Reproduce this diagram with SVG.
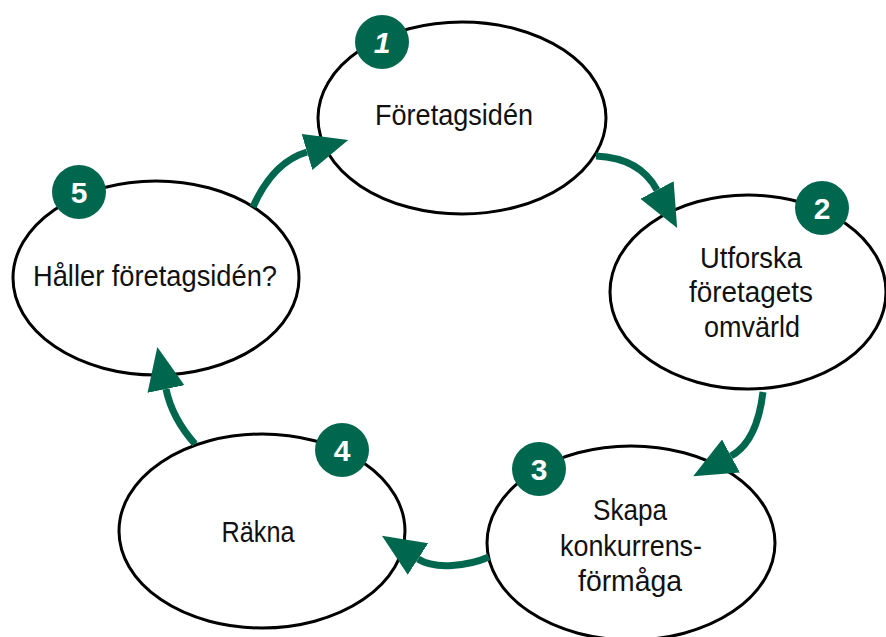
<svg xmlns="http://www.w3.org/2000/svg" width="886" height="637" viewBox="0 0 886 637">
<style>
.node ellipse{fill:#fff;stroke:#000;stroke-width:3}
.lbl{font-family:"Liberation Sans",Arial,sans-serif;font-size:30px;fill:#111;text-anchor:middle}
.badge circle{fill:#00674f}
.badge text{font-family:"Liberation Sans",Arial,sans-serif;font-size:30px;font-weight:bold;fill:#fff;text-anchor:middle}
.conn path{fill:none;stroke:#00674f;stroke-width:7;marker-end:url(#ah)}
</style>
<defs>
<marker id="ah" markerUnits="userSpaceOnUse" markerWidth="44" markerHeight="40" viewBox="0 -19 42 38" refX="0" refY="0" orient="auto">
<path d="M0,-18 L41,0 L0,18 z" fill="#00674f"/>
</marker>
</defs>
<g id="node1" class="node">
<ellipse cx="462" cy="118" rx="144" ry="96"/>
<text class="lbl" x="454" y="125" textLength="158" lengthAdjust="spacingAndGlyphs">Företagsidén</text>
</g>
<g id="node2" class="node">
<ellipse cx="748" cy="292" rx="138" ry="97"/>
<text class="lbl" x="751" y="268" textLength="102" lengthAdjust="spacingAndGlyphs">Utforska</text>
<text class="lbl" x="751" y="302" textLength="124" lengthAdjust="spacingAndGlyphs">företagets</text>
<text class="lbl" x="752" y="337" textLength="96" lengthAdjust="spacingAndGlyphs">omvärld</text>
</g>
<g id="node3" class="node">
<ellipse cx="631" cy="543" rx="144" ry="97"/>
<text class="lbl" x="630" y="520" textLength="74" lengthAdjust="spacingAndGlyphs">Skapa</text>
<text class="lbl" x="631" y="556" textLength="142" lengthAdjust="spacingAndGlyphs">konkurrens-</text>
<text class="lbl" x="630" y="591" textLength="104" lengthAdjust="spacingAndGlyphs">förmåga</text>
</g>
<g id="node4" class="node">
<ellipse cx="262" cy="531" rx="143" ry="97"/>
<text class="lbl" x="258" y="542" textLength="73" lengthAdjust="spacingAndGlyphs">Räkna</text>
</g>
<g id="node5" class="node">
<ellipse cx="156" cy="278" rx="143" ry="97"/>
<text class="lbl" x="155" y="286" textLength="244" lengthAdjust="spacingAndGlyphs">Håller företagsidén?</text>
</g>
<g id="connectors" class="conn">
<path d="M596,156 Q640,158 657,190"/>
<path d="M763,392 Q757,442 731,456"/>
<path d="M489,557 C468,566 435,570 418,559"/>
<path d="M195,444 Q172,418 166,389"/>
<path d="M253,207 Q273,162 307,152"/>
</g>
<g id="badge1" class="badge"><circle cx="382" cy="42" r="27"/><text x="382" y="53" font-style="italic">1</text></g>
<g id="badge2" class="badge"><circle cx="822" cy="208" r="27"/><text x="822" y="219">2</text></g>
<g id="badge3" class="badge"><circle cx="539" cy="469" r="27"/><text x="539" y="480">3</text></g>
<g id="badge4" class="badge"><circle cx="342" cy="450" r="27"/><text x="342" y="461">4</text></g>
<g id="badge5" class="badge"><circle cx="79" cy="192" r="27"/><text x="79" y="203">5</text></g>
</svg>
